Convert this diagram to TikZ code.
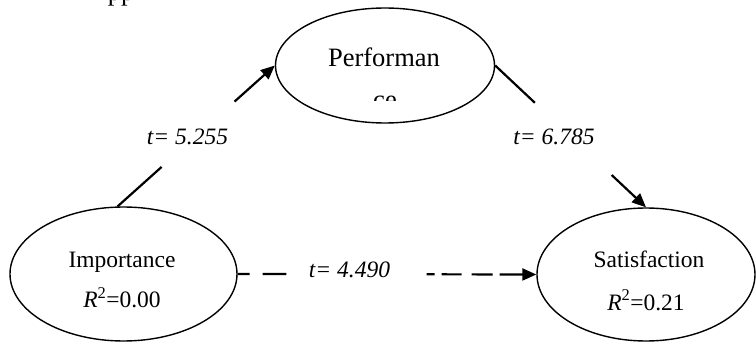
\documentclass[tikz,border=0pt]{standalone}
\usepackage{fontspec}
\setmainfont{Liberation Serif}
\usetikzlibrary{shapes.geometric,arrows.meta,calc}
\tikzset{
  latent/.style={draw, ellipse, line width=1.4pt, inner sep=0pt},
  txt/.style={anchor=base, inner sep=0pt, font=\fontsize{23.5}{28}\selectfont},
  bigtxt/.style={anchor=base, inner sep=0pt, font=\fontsize{26.5}{30}\selectfont},
  lbl/.style={anchor=base, inner sep=0pt, font=\fontsize{23.5}{28}\selectfont\itshape},
  conn/.style={line width=2.2pt},
  arr/.style={conn, -{Triangle[length=14pt,width=12pt]}},
  dsh/.style={conn, dash pattern=on 12pt off 13pt on 40pt},
  dshr/.style={conn, dash pattern=on 8pt off 7pt on 20pt off 10pt on 21pt off 7pt on 80pt, -{Triangle[length=14pt,width=12pt]}}
}
\begin{document}
\begin{tikzpicture}[x=1pt,y=-1pt]
\useasboundingbox (0,0) rectangle (756,342);
% ellipses
\node[latent, minimum width=219pt, minimum height=115pt] (perf) at (385,65.5) {};
\node[latent, minimum width=227pt, minimum height=134pt] (imp) at (123.5,274) {};
\node[latent, minimum width=218pt, minimum height=133pt] (sat) at (646,274.5) {};
% texts
\node[bigtxt] (toppp) at (121,0.5) {pp};
\node[bigtxt] (perft) at (384,67) {Performan};
\begin{scope}
  \clip (300,80) rectangle (470,101);
  \node[bigtxt] (perfce) at (385,109) {ce};
\end{scope}
\node[txt] (impt) at (122,268) {Importance};
\node[txt] (impr) at (122,308) {\textit{R}\textsuperscript{2}=0.00};
\node[txt] (satt) at (649,268) {Satisfaction};
\node[txt] (satr) at (646,310) {\textit{R}\textsuperscript{2}=0.21};
% connectors
\coordinate (a1) at ($(imp.95)!0.28!(perf.west)$);
\coordinate (a2) at ($(imp.95)!0.744!(perf.west)$);
\draw[conn] (imp.95) -- (a1);
\draw[arr] (a2) -- (perf.west);
\coordinate (b1) at ($(perf.east)!0.263!(sat.north)$);
\coordinate (b2) at ($(perf.east)!0.772!(sat.north)$);
\draw[conn] (perf.east) -- (b1);
\draw[arr] (b2) -- (sat.north);
\coordinate (c1) at ($(imp.east)!0.163!(sat.west)$);
\coordinate (c2) at ($(imp.east)!0.633!(sat.west)$);
\draw[dsh] (imp.east) -- (c1);
\draw[dshr] (c2) -- (sat.west);
% labels
\node[lbl] (l1) at (187.5,145) {t= 5.255};
\node[lbl] (l2) at (554,145) {t= 6.785};
\node[lbl] (l3) at (349.5,277) {t= 4.490};
\end{tikzpicture}
\end{document}
